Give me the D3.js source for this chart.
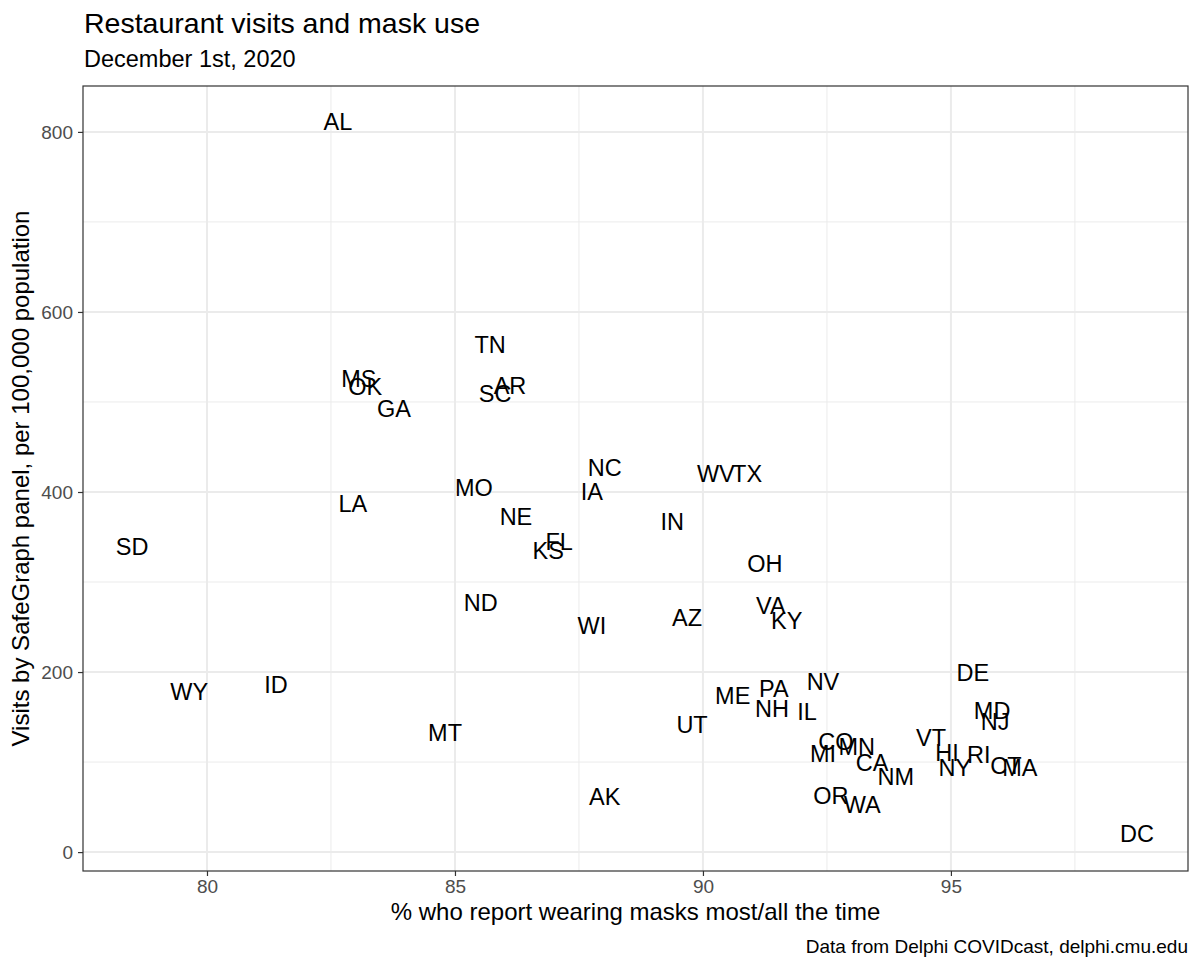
<!DOCTYPE html>
<html>
<head>
<meta charset="utf-8">
<script src="https://cdn.jsdelivr.net/npm/d3@7"></script>
<style>
  body { margin: 0; background: #fff; }
  text { font-family: "Liberation Sans", Arial, sans-serif; }
</style>
</head>
<body>
<svg id="SVG_CONTAINER" width="1200" height="967"></svg>
<script>
// state abbreviations, mask use (%) and restaurant visits per 100k
const states = ["AL","TN","MS","OK","GA","SC","AR","NC","IA","MO","LA","NE","FL","KS",
    "WV","TX","OH","VA","KY","IN","SD","ND","WI","AZ","ID","WY","MT","UT","AK","DC",
    "ME","PA","NH","NV","IL","CO","MI","MN","CA","NM","OR","WA",
    "DE","MD","NJ","VT","HI","RI","NY","CT","MA"];
const maskPct = [82.64,85.71,83.06,83.19,83.77,85.81,86.11,88.02,87.76,85.38,82.94,86.23,87.10,86.88,
    90.26,90.89,91.25,91.37,91.69,89.38,78.49,85.52,87.76,89.68,81.39,79.64,84.80,89.78,88.02,98.75,
    90.60,91.43,91.39,92.42,92.10,92.68,92.42,93.10,93.41,93.89,92.58,93.21,
    95.44,95.83,95.89,94.60,94.92,95.56,95.08,96.11,96.39];
const visits = [812,564,526,517,493,509,518,427,401,405,387,373,345,335,
    421,421,321,274,257,367,339,277,252,261,186,178,133,142,62,21,
    174,182,160,190,156,123,110,117,99,84,63,53,
    200,157,145,127,111,108,94,96,94];

const xTicks = [80, 85, 90, 95];
const xMinor = [82.5, 87.5, 92.5, 97.5];
const yTicks = [0, 200, 400, 600, 800];
const yMinor = [100, 300, 500, 700];

const MARGIN = {LEFT: 83, RIGHT: 12, TOP: 86, BOTTOM: 96};
const width = 1200, height = 967;

let svg = d3.select("#SVG_CONTAINER");

let xScale = d3.scaleLinear()
    .domain([77.5, 99.78])
    .range([MARGIN.LEFT, width - MARGIN.RIGHT]);
let yScale = d3.scaleLinear()
    .domain([-21, 851])
    .range([height - MARGIN.BOTTOM, MARGIN.TOP]);

let panelB = height - MARGIN.BOTTOM;
let panelR = width - MARGIN.RIGHT;

// titles
svg.append("text").attr("x", 84).attr("y", 33)
    .style("font-size", "28.5px").text("Restaurant visits and mask use");
svg.append("text").attr("x", 84).attr("y", 67)
    .style("font-size", "23.5px").text("December 1st, 2020");

// grid
let grid = svg.append("g");
grid.selectAll(".xminor").data(xMinor).enter().append("line")
    .attr("x1", d => xScale(d)).attr("x2", d => xScale(d))
    .attr("y1", MARGIN.TOP).attr("y2", panelB)
    .style("stroke", "#EBEBEB").style("stroke-width", 1);
grid.selectAll(".yminor").data(yMinor).enter().append("line")
    .attr("x1", MARGIN.LEFT).attr("x2", panelR)
    .attr("y1", d => yScale(d)).attr("y2", d => yScale(d))
    .style("stroke", "#EBEBEB").style("stroke-width", 1);
grid.selectAll(".xmajor").data(xTicks).enter().append("line")
    .attr("x1", d => xScale(d)).attr("x2", d => xScale(d))
    .attr("y1", MARGIN.TOP).attr("y2", panelB)
    .style("stroke", "#EBEBEB").style("stroke-width", 2);
grid.selectAll(".ymajor").data(yTicks).enter().append("line")
    .attr("x1", MARGIN.LEFT).attr("x2", panelR)
    .attr("y1", d => yScale(d)).attr("y2", d => yScale(d))
    .style("stroke", "#EBEBEB").style("stroke-width", 2);

// points as text labels
svg.append("g").selectAll("text").data(states).enter().append("text")
    .attr("x", (d, i) => xScale(maskPct[i]))
    .attr("y", (d, i) => yScale(visits[i]))
    .attr("dy", "0.36em")
    .attr("text-anchor", "middle")
    .style("font-size", "23.5px")
    .style("fill", "#000")
    .text(d => d);

// panel border
svg.append("rect")
    .attr("x", MARGIN.LEFT).attr("y", MARGIN.TOP)
    .attr("width", panelR - MARGIN.LEFT).attr("height", panelB - MARGIN.TOP)
    .style("fill", "none").style("stroke", "#333").style("stroke-width", 1.2);

// axes
let xAxis = d3.axisBottom(xScale).tickValues(xTicks).tickSize(5).tickPadding(4);
let gx = svg.append("g").attr("transform", "translate(0," + panelB + ")").call(xAxis);
let yAxis = d3.axisLeft(yScale).tickValues(yTicks).tickSize(5).tickPadding(5);
let gy = svg.append("g").attr("transform", "translate(" + MARGIN.LEFT + ",0)").call(yAxis);
[gx, gy].forEach(g => {
    g.select(".domain").remove();
    g.selectAll(".tick line").style("stroke", "#333").style("stroke-width", 1.2);
    g.selectAll(".tick text").style("font-size", "19px").style("fill", "#4D4D4D")
        .style("font-family", "Liberation Sans, Arial, sans-serif");
});

// axis titles
svg.append("text")
    .attr("x", (MARGIN.LEFT + panelR) / 2).attr("y", 920)
    .attr("text-anchor", "middle").style("font-size", "24px")
    .text("% who report wearing masks most/all the time");
svg.append("text")
    .attr("transform", "translate(29," + ((MARGIN.TOP + panelB) / 2) + ") rotate(-90)")
    .attr("text-anchor", "middle").style("font-size", "24px")
    .text("Visits by SafeGraph panel, per 100,000 population");

// caption
svg.append("text")
    .attr("x", panelR).attr("y", 953)
    .attr("text-anchor", "end").style("font-size", "19px")
    .text("Data from Delphi COVIDcast, delphi.cmu.edu");
</script>
</body>
</html>
